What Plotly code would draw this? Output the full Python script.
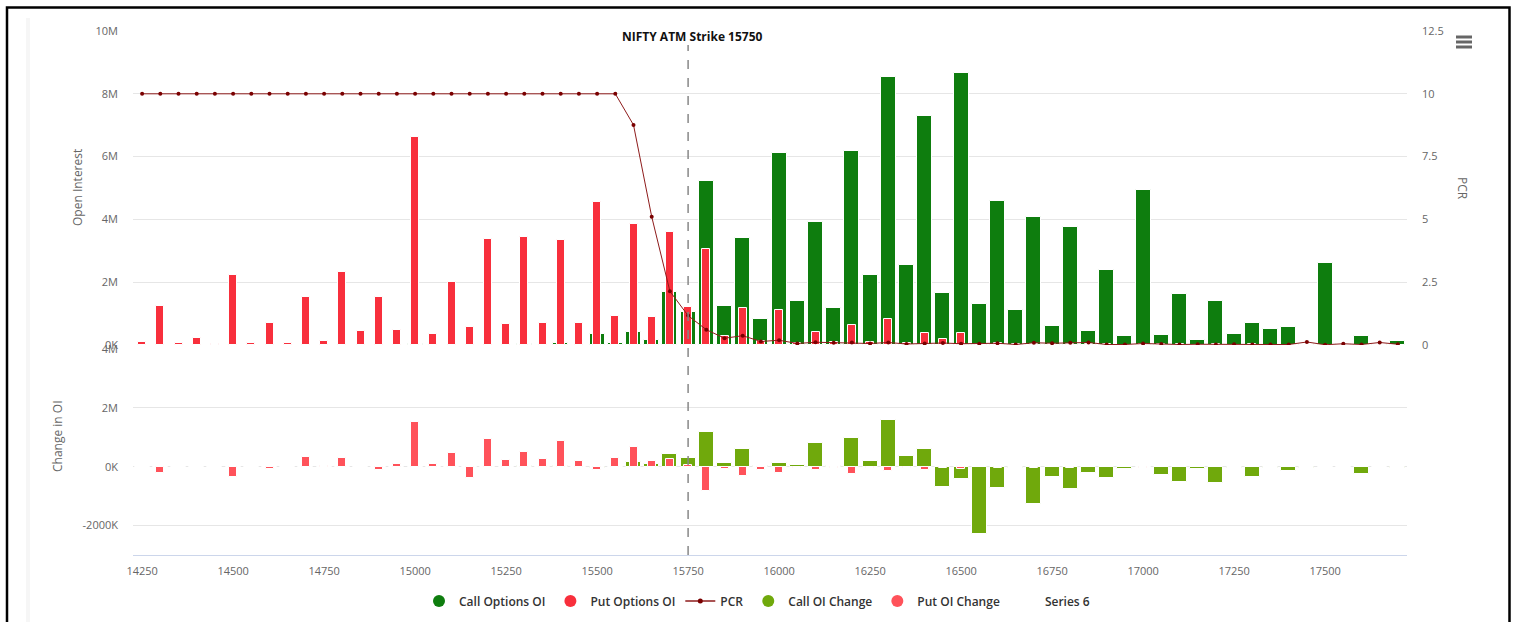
import plotly.graph_objects as go

strikes = [14250, 14300, 14350, 14400, 14450, 14500, 14550, 14600, 14650, 14700,
           14750, 14800, 14850, 14900, 14950, 15000, 15050, 15100, 15150, 15200,
           15250, 15300, 15350, 15400, 15450, 15500, 15550, 15600, 15650, 15700,
           15750, 15800, 15850, 15900, 15950, 16000, 16050, 16100, 16150, 16200,
           16250, 16300, 16350, 16400, 16450, 16500, 16550, 16600, 16650, 16700,
           16750, 16800, 16850, 16900, 16950, 17000, 17050, 17100, 17150, 17200,
           17250, 17300, 17350, 17400, 17450, 17500, 17550, 17600, 17650, 17700]

# Open interest, millions
call_oi = [0, 0, 0, 0, 0, 0, 0, 0, 0, 0,
           0, 0, 0, 0, 0, 0.03, 0, 0, 0, 0,
           0, 0.03, 0.01, 0.05, 0.01, 0.34, 0.05, 0.42, 0.17, 1.70,
           1.05, 5.23, 1.24, 3.42, 0.83, 6.11, 1.39, 3.93, 1.17, 6.17,
           2.23, 8.54, 2.54, 7.29, 1.67, 8.67, 1.29, 4.60, 1.10, 4.07,
           0.60, 3.76, 0.44, 2.38, 0.30, 4.94, 0.33, 1.64, 0.17, 1.39,
           0.36, 0.70, 0.51, 0.57, 0.03, 2.60, 0.02, 0.30, 0.02, 0.12]

put_oi = [0.10, 1.24, 0.05, 0.23, 0.03, 2.23, 0.05, 0.70, 0.05, 1.52,
          0.14, 2.33, 0.44, 1.52, 0.48, 6.63, 0.36, 2.01, 0.58, 3.39,
          0.67, 3.45, 0.70, 3.35, 0.70, 4.57, 0.92, 3.86, 0.89, 3.61,
          1.21, 3.07, 0.30, 1.17, 0.14, 1.13, 0.05, 0.42, 0.10, 0.63,
          0.10, 0.83, 0.05, 0.39, 0.18, 0.39, 0.03, 0.05, 0.02, 0.04,
          0.02, 0.03, 0.02, 0.02, 0.01, 0.03, 0.02, 0.02, 0.01, 0.02,
          0.01, 0.02, 0.01, 0.01, 0.005, 0.01, 0.005, 0.005, 0.005, 0.005]

pcr = [10, 10, 10, 10, 10, 10, 10, 10, 10, 10,
       10, 10, 10, 10, 10, 10, 10, 10, 10, 10,
       10, 10, 10, 10, 10, 10, 10, 8.76, 5.11, 2.14,
       1.17, 0.61, 0.27, 0.37, 0.14, 0.19, 0.06, 0.11, 0.09, 0.10,
       0.06, 0.10, 0.04, 0.06, 0.08, 0.05, 0.05, 0.07, 0.02, 0.09,
       0.07, 0.09, 0.10, 0.02, 0.02, 0.06, 0.04, 0.02, 0.03, 0.02,
       0.03, 0.02, 0.02, 0.02, 0.12, 0.01, 0.05, 0.02, 0.10, 0.03]

# Change in OI, millions
call_chg = [0, 0, 0, 0, 0, 0, 0, 0, 0, 0,
            0, 0, 0, 0, 0, -0.02, 0, 0, 0, 0,
            0, 0.01, 0, 0.03, 0, -0.03, 0, 0.15, 0.08, 0.42,
            0.29, 1.19, 0.11, 0.61, 0.02, 0.11, 0.06, 0.81, 0.01, 0.98,
            0.18, 1.58, 0.35, 0.61, -0.68, -0.42, -2.28, -0.71, -0.04, -1.25,
            -0.34, -0.76, -0.21, -0.37, -0.08, 0, -0.28, -0.52, -0.08, -0.54,
            -0.05, -0.34, -0.05, -0.15, -0.04, 0, 0, -0.25, 0, -0.04]

put_chg = [0, -0.21, 0, 0, 0, -0.34, 0, -0.08, 0, 0.33,
           0.03, 0.29, 0, -0.11, 0.10, 1.53, 0.10, 0.45, -0.37, 0.93,
           0.23, 0.49, 0.26, 0.86, 0.19, -0.11, 0.28, 0.66, 0.18, 0.27,
           0.07, -0.81, -0.08, -0.31, -0.11, -0.21, -0.06, -0.11, -0.05, -0.25,
           -0.06, -0.15, -0.05, -0.11, -0.05, -0.08, 0, -0.05, 0, -0.05,
           0, -0.05, 0, 0, 0, -0.05, 0, 0, 0, 0,
           0, 0, 0, 0, 0, 0, 0, 0, 0, 0]

x_ticks = [14250, 14500, 14750, 15000, 15250, 15500, 15750, 16000, 16250, 16500, 16750, 17000, 17250, 17500]
oi_ticks = [0, 2, 4, 6, 8, 10]
oi_labels = ["0K", "2M", "4M", "6M", "8M", "10M"]
pcr_ticks = [0, 2.5, 5, 7.5, 10, 12.5]
pcr_labels = ["0", "2.5", "5", "7.5", "10", "12.5"]
chg_ticks = [-2, 0, 2, 4]
chg_labels = ["-2000K", "0K", "2M", "4M"]
atm_strike = 15750

C_CALL = "#0E7D0E"
C_PUT = "#F82F3C"
C_PCR = "#8E1B1B"
C_CALL_CHG = "#70A90C"
C_PUT_CHG = "#FF525A"
FONT = "Open Sans"

fig = go.Figure()

W_WIDE = 41
W_NARROW = 22

fig.add_trace(go.Bar(x=strikes, y=call_oi, width=W_WIDE, marker=dict(color=C_CALL, line=dict(color="white", width=1)),
                     xaxis="x", yaxis="y", showlegend=False, name="Call Options OI"))
fig.add_trace(go.Bar(x=strikes, y=put_oi, width=W_NARROW, marker=dict(color=C_PUT, line=dict(color="white", width=1)),
                     xaxis="x", yaxis="y", showlegend=False, name="Put Options OI"))
fig.add_trace(go.Scatter(x=strikes, y=pcr, mode="lines+markers", line=dict(color=C_PCR, width=1),
                         marker=dict(color="#7A0000", size=4), xaxis="x", yaxis="y2", showlegend=False, name="PCR"))
fig.add_trace(go.Bar(x=strikes, y=call_chg, width=W_WIDE, marker=dict(color=C_CALL_CHG, line=dict(color="white", width=1)),
                     xaxis="x", yaxis="y3", showlegend=False, name="Call OI Change"))
fig.add_trace(go.Bar(x=strikes, y=put_chg, width=W_NARROW, marker=dict(color=C_PUT_CHG, line=dict(color="white", width=1)),
                     xaxis="x", yaxis="y3", showlegend=False, name="Put OI Change"))

# legend entries
for nm, col in [("Call Options OI", C_CALL), ("Put Options OI", C_PUT)]:
    fig.add_trace(go.Scatter(x=[None], y=[None], mode="markers", marker=dict(color=col, size=12), name=nm, yaxis="y"))
fig.add_trace(go.Scatter(x=[None], y=[None], mode="lines+markers", line=dict(color=C_PCR, width=1.5),
                         marker=dict(color="#7A0000", size=5), name="PCR", yaxis="y"))
for nm, col in [("Call OI Change", C_CALL_CHG), ("Put OI Change", C_PUT_CHG)]:
    fig.add_trace(go.Scatter(x=[None], y=[None], mode="markers", marker=dict(color=col, size=12), name=nm, yaxis="y"))
fig.add_trace(go.Scatter(x=[None], y=[None], mode="markers", marker=dict(color="rgba(0,0,0,0)", size=12), name="Series 6", yaxis="y"))

# plot area in pixels: x 133..1407, y 31..555
L, R, T, B = 133, 1407, 31, 555
PW, PH = R - L, B - T
def px(xp):
    return (xp - L) / PW
def py(yp):
    return (B - yp) / PH

tickfont = dict(family=FONT, size=11, color="#666666")
grid = "#e6e6e6"

fig.update_layout(
    width=1515, height=622,
    margin=dict(l=L, r=1515 - R, t=T, b=622 - B, autoexpand=False),
    paper_bgcolor="white", plot_bgcolor="white",
    barmode="overlay",
    bargap=0,
    font=dict(family=FONT, color="#333333"),
    xaxis=dict(range=[14225, 17725], tickvals=x_ticks, ticktext=[str(v) for v in x_ticks],
               tickfont=tickfont, showgrid=False, zeroline=False, showline=True,
               linecolor="#ccd6eb", linewidth=1, anchor="y3", ticks="", ticklabelstandoff=6),
    yaxis=dict(domain=[py(345), 1], range=[0, 10], tickvals=oi_ticks, ticktext=oi_labels,
               tickfont=tickfont, gridcolor=grid, gridwidth=1, zeroline=False, ticks="",
               ticklabelstandoff=14, anchor="x"),
    yaxis2=dict(overlaying="y", side="right", range=[0, 12.5], tickvals=pcr_ticks, ticktext=pcr_labels,
                tickfont=tickfont, showgrid=False, zeroline=False, ticks="", ticklabelstandoff=14, anchor="x"),
    yaxis3=dict(domain=[0, py(349)], range=[-3, 4], tickvals=chg_ticks, ticktext=chg_labels,
                tickfont=tickfont, gridcolor=grid, gridwidth=1, zeroline=False, ticks="",
                ticklabelstandoff=14, anchor="x"),
    legend=dict(orientation="h", x=0.5 - 13 / 1274, xanchor="center", y=py(601), yanchor="middle",
                font=dict(family=FONT, size=12, color="#333333", weight=600),
                bgcolor="rgba(0,0,0,0)", itemclick=False, tracegroupgap=0),
    showlegend=True,
)

# ATM dashed line and label
fig.add_shape(type="line", xref="x", yref="paper", x0=atm_strike, x1=atm_strike, y0=0, y1=py(45),
              line=dict(color="#888888", width=1.5, dash="dash"))
fig.add_annotation(x=atm_strike, xref="x", y=py(37), yref="paper", text="NIFTY ATM Strike 15750",
                   showarrow=False, xanchor="center", yanchor="middle", xshift=4,
                   font=dict(family=FONT, size=12, color="#111111", weight="bold"))

# axis titles
fig.add_annotation(x=px(77), y=py(188), xref="paper", yref="paper", text="Open Interest", textangle=-90,
                   showarrow=False, xanchor="center", yanchor="middle",
                   font=dict(family=FONT, size=12, color="#666666"))
fig.add_annotation(x=px(57), y=py(436), xref="paper", yref="paper", text="Change in OI", textangle=-90,
                   showarrow=False, xanchor="center", yanchor="middle",
                   font=dict(family=FONT, size=12, color="#666666"))
fig.add_annotation(x=px(1463), y=py(188), xref="paper", yref="paper", text="PCR", textangle=90,
                   showarrow=False, xanchor="center", yanchor="middle",
                   font=dict(family=FONT, size=12, color="#666666"))

# menu icon
for yy in (37, 42, 47):
    fig.add_shape(type="line", xref="paper", yref="paper", x0=px(1456), x1=px(1472), y0=py(yy), y1=py(yy),
                  line=dict(color="#666666", width=3))

# faint left band and outer frame
fig.add_shape(type="line", xref="paper", yref="paper", x0=px(28), x1=px(28), y0=py(18), y1=py(640),
              line=dict(color="#f6f6f6", width=4))
fig.add_shape(type="rect", xref="paper", yref="paper", x0=px(7), x1=px(1509.5), y0=py(7.5), y1=py(660),
              line=dict(color="black", width=2.5), fillcolor="rgba(0,0,0,0)")

fig.write_html("out.html", config={"displayModeBar": False},
               post_script="document.body.style.margin='0';document.body.style.overflow='hidden';")
